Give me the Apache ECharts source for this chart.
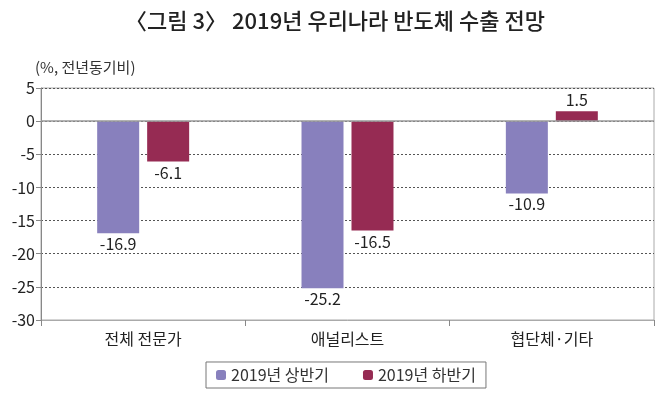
<!DOCTYPE html>
<html>
<head>
<meta charset="utf-8">
<script src="https://cdn.jsdelivr.net/npm/echarts@6/dist/echarts.min.js"></script>
<style>
    html, body { margin: 0; padding: 0; background: #fff; }
    #chart_main { width: 670px; height: 398px; }
</style>
</head>
<body>
<div id="chart_main"></div>
<script>
var categories = ['전체 전문가', '애널리스트', '협단체·기타'];
var firstHalf = [-16.9, -25.2, -10.9];
var secondHalf = [-6.1, -16.5, 1.5];
var seriesName = ['2019년 상반기', '2019년 하반기'];
var fontName = '"Noto Sans CJK KR", "Noto Sans", sans-serif';

function labelData(arr) {
    var out = [];
    for (var i = 0; i < arr.length; i++) {
        out.push({
            value: arr[i],
            label: { position: arr[i] < 0 ? 'bottom' : 'top' }
        });
    }
    return out;
}

var chart_main = echarts.init(document.getElementById('chart_main'));

var option = {
    animation: false,
    textStyle: { fontFamily: fontName },
    title: {
        text: '〈그림 3〉 2019년 우리나라 반도체 수출 전망',
        left: 'center',
        top: 5,
        textStyle: { fontSize: 22, fontWeight: 500, color: '#222', fontFamily: fontName }
    },
    graphic: [{
        type: 'text',
        left: 35,
        top: 60,
        style: { text: '(%, 전년동기비)', fontSize: 15, fill: '#333', fontFamily: fontName }
    }],
    legend: {
        data: seriesName,
        bottom: 10,
        left: 206,
        itemWidth: 10,
        itemHeight: 10,
        itemGap: 34,
        padding: [5, 10],
        borderColor: '#777',
        borderWidth: 1,
        textStyle: { fontSize: 16, color: '#333' }
    },
    grid: {
        left: 41,
        right: 16,
        top: 88,
        bottom: 78,
        show: true,
        borderColor: '#aaa',
        borderWidth: 1
    },
    xAxis: {
        type: 'category',
        data: categories,
        axisLine: { onZero: false, lineStyle: { color: '#aaa' } },
        axisTick: { show: true, length: 6, lineStyle: { color: '#888' } },
        axisLabel: { fontSize: 16, color: '#222', margin: 11 }
    },
    yAxis: {
        type: 'value',
        min: -30,
        max: 5,
        interval: 5,
        axisLine: { show: true, lineStyle: { color: '#888' } },
        axisTick: { show: true, length: 5, inside: false, lineStyle: { color: '#888' } },
        axisLabel: { fontSize: 16, color: '#222', margin: 6 },
        splitLine: { show: true, lineStyle: { color: '#555', type: [2, 2], width: 1 } }
    },
    series: [
        {
            name: seriesName[0],
            type: 'bar',
            barWidth: 42,
            barGap: '19%',
            itemStyle: { color: '#8880bd' },
            label: { show: true, fontSize: 16, color: '#222', distance: 3 },
            data: labelData(firstHalf),
            markLine: {
                silent: true,
                symbol: 'none',
                label: { show: false },
                lineStyle: { color: '#999', type: 'solid', width: 1.5 },
                data: [{ yAxis: 0 }]
            }
        },
        {
            name: seriesName[1],
            type: 'bar',
            barWidth: 42,
            itemStyle: { color: '#962b53' },
            label: { show: true, fontSize: 16, color: '#222', distance: 3 },
            data: labelData(secondHalf)
        }
    ]
};
chart_main.setOption(option);
</script>
</body>
</html>
